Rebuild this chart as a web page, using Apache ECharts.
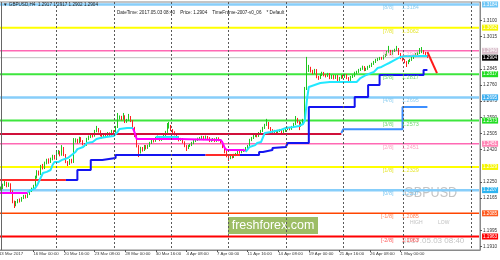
<!DOCTYPE html>
<html><head><meta charset="utf-8">
<script src="https://cdn.jsdelivr.net/npm/echarts@6/dist/echarts.min.js"></script>
<style>html,body{margin:0;padding:0;background:#fff}#c{width:500px;height:260px}</style>
</head><body><div id="c"></div>
<script>
// ---- data (GBPUSD H4, 13 Mar 2017 .. 3 May 2017 08:00), [open, close, low, high]
const ohlc = [
[1.2203,1.2213,1.2196,1.2218],[1.2213,1.2218,1.2205,1.2226],[1.2218,1.2234,1.2212,1.2241],[1.2234,1.2245,1.2229,1.2256],
[1.2245,1.2229,1.2222,1.2251],[1.2229,1.2239,1.2224,1.2247],[1.2239,1.2201,1.2195,1.2243],[1.2201,1.2145,1.2138,1.2206],
[1.2145,1.2129,1.2113,1.2152],[1.2129,1.2145,1.2122,1.2150],[1.2145,1.2155,1.2138,1.2160],[1.2155,1.2150,1.2142,1.2163],
[1.2150,1.2166,1.2146,1.2171],[1.2166,1.2176,1.2160,1.2182],[1.2176,1.2171,1.2163,1.2183],[1.2171,1.2187,1.2166,1.2192],
[1.2187,1.2203,1.2181,1.2208],[1.2203,1.2213,1.2197,1.2220],[1.2213,1.2229,1.2208,1.2235],[1.2229,1.2276,1.2224,1.2283],
[1.2276,1.2303,1.2268,1.2312],[1.2303,1.2292,1.2284,1.2310],[1.2292,1.2334,1.2287,1.2340],[1.2334,1.2324,1.2316,1.2345],
[1.2324,1.2350,1.2318,1.2357],[1.2350,1.2366,1.2343,1.2372],[1.2366,1.2355,1.2346,1.2374],[1.2355,1.2371,1.2350,1.2378],
[1.2371,1.2387,1.2364,1.2393],[1.2387,1.2376,1.2368,1.2392],[1.2376,1.2402,1.2372,1.2410],[1.2402,1.2408,1.2395,1.2418],
[1.2408,1.2392,1.2385,1.2414],[1.2392,1.2429,1.2388,1.2444],[1.2429,1.2392,1.2386,1.2434],[1.2392,1.2355,1.2349,1.2397],
[1.2355,1.2345,1.2334,1.2360],[1.2345,1.2366,1.2340,1.2371],[1.2366,1.2355,1.2348,1.2372],[1.2355,1.2466,1.2350,1.2481],
[1.2466,1.2471,1.2457,1.2480],[1.2471,1.2460,1.2452,1.2477],[1.2460,1.2481,1.2455,1.2488],[1.2481,1.2466,1.2459,1.2486],
[1.2466,1.2450,1.2443,1.2470],[1.2450,1.2444,1.2434,1.2455],[1.2444,1.2476,1.2440,1.2482],[1.2476,1.2487,1.2470,1.2494],
[1.2487,1.2497,1.2481,1.2505],[1.2497,1.2492,1.2484,1.2502],[1.2492,1.2518,1.2488,1.2524],[1.2518,1.2529,1.2512,1.2545],
[1.2529,1.2518,1.2510,1.2534],[1.2518,1.2497,1.2490,1.2522],[1.2497,1.2487,1.2479,1.2502],[1.2487,1.2502,1.2482,1.2507],
[1.2502,1.2492,1.2485,1.2508],[1.2492,1.2508,1.2487,1.2513],[1.2508,1.2497,1.2490,1.2511],[1.2497,1.2518,1.2493,1.2524],
[1.2518,1.2513,1.2505,1.2522],[1.2513,1.2539,1.2508,1.2545],[1.2539,1.2587,1.2534,1.2613],[1.2587,1.2592,1.2578,1.2600],
[1.2592,1.2582,1.2574,1.2598],[1.2582,1.2597,1.2577,1.2613],[1.2597,1.2566,1.2560,1.2601],[1.2566,1.2576,1.2561,1.2582],
[1.2576,1.2592,1.2571,1.2608],[1.2592,1.2571,1.2565,1.2597],[1.2571,1.2534,1.2528,1.2576],[1.2534,1.2492,1.2486,1.2540],
[1.2492,1.2439,1.2432,1.2497],[1.2439,1.2408,1.2381,1.2444],[1.2408,1.2429,1.2400,1.2435],[1.2429,1.2418,1.2410,1.2434],
[1.2418,1.2439,1.2413,1.2445],[1.2439,1.2429,1.2421,1.2444],[1.2429,1.2439,1.2424,1.2446],[1.2439,1.2455,1.2434,1.2461],
[1.2455,1.2471,1.2450,1.2477],[1.2471,1.2466,1.2458,1.2476],[1.2466,1.2481,1.2461,1.2487],[1.2481,1.2487,1.2475,1.2494],
[1.2487,1.2471,1.2465,1.2492],[1.2471,1.2476,1.2466,1.2483],[1.2476,1.2497,1.2471,1.2503],[1.2497,1.2513,1.2492,1.2519],
[1.2513,1.2539,1.2508,1.2560],[1.2539,1.2545,1.2531,1.2566],[1.2545,1.2523,1.2518,1.2550],[1.2523,1.2513,1.2505,1.2528],
[1.2513,1.2502,1.2495,1.2517],[1.2502,1.2487,1.2480,1.2507],[1.2487,1.2471,1.2464,1.2492],[1.2471,1.2476,1.2466,1.2482],
[1.2476,1.2460,1.2453,1.2481],[1.2460,1.2439,1.2433,1.2464],[1.2439,1.2429,1.2413,1.2444],[1.2429,1.2439,1.2423,1.2445],
[1.2439,1.2444,1.2434,1.2450],[1.2444,1.2455,1.2439,1.2461],[1.2455,1.2466,1.2449,1.2471],[1.2466,1.2471,1.2460,1.2477],
[1.2471,1.2476,1.2466,1.2483],[1.2476,1.2481,1.2470,1.2487],[1.2481,1.2487,1.2476,1.2493],[1.2487,1.2476,1.2470,1.2492],
[1.2476,1.2487,1.2471,1.2494],[1.2487,1.2481,1.2474,1.2492],[1.2481,1.2466,1.2460,1.2486],[1.2466,1.2471,1.2461,1.2477],
[1.2471,1.2476,1.2465,1.2481],[1.2476,1.2466,1.2460,1.2480],[1.2466,1.2481,1.2461,1.2486],[1.2481,1.2471,1.2464,1.2485],
[1.2471,1.2460,1.2454,1.2476],[1.2460,1.2434,1.2428,1.2465],[1.2434,1.2408,1.2401,1.2439],[1.2408,1.2387,1.2380,1.2413],
[1.2387,1.2376,1.2360,1.2392],[1.2376,1.2387,1.2370,1.2393],[1.2387,1.2381,1.2374,1.2392],[1.2381,1.2392,1.2376,1.2398],
[1.2392,1.2397,1.2386,1.2403],[1.2397,1.2408,1.2392,1.2413],[1.2408,1.2406,1.2399,1.2414],[1.2406,1.2413,1.2401,1.2419],
[1.2413,1.2418,1.2408,1.2424],[1.2418,1.2429,1.2413,1.2434],[1.2429,1.2439,1.2424,1.2445],[1.2439,1.2471,1.2434,1.2477],
[1.2471,1.2481,1.2465,1.2487],[1.2481,1.2492,1.2476,1.2497],[1.2492,1.2497,1.2486,1.2503],[1.2497,1.2492,1.2485,1.2502],
[1.2492,1.2508,1.2487,1.2513],[1.2508,1.2518,1.2502,1.2524],[1.2518,1.2534,1.2513,1.2540],[1.2534,1.2550,1.2529,1.2556],
[1.2550,1.2560,1.2545,1.2582],[1.2560,1.2534,1.2528,1.2566],[1.2534,1.2523,1.2516,1.2539],[1.2523,1.2513,1.2506,1.2528],
[1.2513,1.2518,1.2508,1.2524],[1.2518,1.2508,1.2501,1.2522],[1.2508,1.2518,1.2503,1.2524],[1.2518,1.2523,1.2513,1.2529],
[1.2523,1.2513,1.2506,1.2528],[1.2513,1.2518,1.2508,1.2524],[1.2518,1.2529,1.2513,1.2534],[1.2529,1.2534,1.2523,1.2540],
[1.2534,1.2529,1.2522,1.2539],[1.2529,1.2539,1.2524,1.2545],[1.2539,1.2555,1.2534,1.2561],[1.2555,1.2582,1.2550,1.2597],
[1.2582,1.2566,1.2559,1.2587],[1.2566,1.2545,1.2523,1.2571],[1.2545,1.2560,1.2540,1.2566],[1.2560,1.2576,1.2555,1.2582],
[1.2576,1.2739,1.2571,1.2750],[1.2739,1.2839,1.2734,1.2908],[1.2839,1.2850,1.2829,1.2866],[1.2850,1.2834,1.2826,1.2856],
[1.2834,1.2824,1.2816,1.2840],[1.2824,1.2839,1.2818,1.2845],[1.2839,1.2802,1.2796,1.2844],[1.2802,1.2797,1.2787,1.2808],
[1.2797,1.2813,1.2792,1.2819],[1.2813,1.2824,1.2808,1.2830],[1.2824,1.2813,1.2806,1.2829],[1.2813,1.2808,1.2800,1.2818],
[1.2808,1.2818,1.2803,1.2824],[1.2818,1.2797,1.2791,1.2823],[1.2797,1.2808,1.2792,1.2814],[1.2808,1.2797,1.2790,1.2813],
[1.2797,1.2808,1.2792,1.2814],[1.2808,1.2787,1.2776,1.2813],[1.2787,1.2797,1.2782,1.2803],[1.2797,1.2808,1.2792,1.2814],
[1.2808,1.2802,1.2795,1.2813],[1.2802,1.2813,1.2797,1.2819],[1.2813,1.2797,1.2791,1.2818],[1.2797,1.2787,1.2776,1.2802],
[1.2787,1.2802,1.2782,1.2808],[1.2802,1.2808,1.2797,1.2814],[1.2808,1.2824,1.2803,1.2830],[1.2824,1.2829,1.2818,1.2835],
[1.2829,1.2839,1.2824,1.2845],[1.2839,1.2845,1.2834,1.2851],[1.2845,1.2855,1.2840,1.2862],[1.2855,1.2839,1.2833,1.2860],
[1.2839,1.2845,1.2834,1.2851],[1.2845,1.2855,1.2840,1.2861],[1.2855,1.2860,1.2850,1.2866],[1.2860,1.2871,1.2855,1.2877],
[1.2871,1.2881,1.2866,1.2887],[1.2881,1.2892,1.2876,1.2898],[1.2892,1.2897,1.2886,1.2903],[1.2897,1.2902,1.2891,1.2908],
[1.2902,1.2899,1.2893,1.2908],[1.2899,1.2913,1.2894,1.2918],[1.2913,1.2918,1.2907,1.2924],[1.2918,1.2934,1.2913,1.2940],
[1.2934,1.2939,1.2928,1.2966],[1.2939,1.2924,1.2918,1.2945],[1.2924,1.2939,1.2919,1.2945],[1.2939,1.2945,1.2934,1.2951],
[1.2945,1.2950,1.2940,1.2966],[1.2950,1.2924,1.2918,1.2955],[1.2924,1.2902,1.2896,1.2929],[1.2902,1.2892,1.2885,1.2907],
[1.2892,1.2881,1.2875,1.2897],[1.2881,1.2876,1.2855,1.2886],[1.2876,1.2887,1.2870,1.2892],[1.2887,1.2892,1.2881,1.2898],
[1.2892,1.2902,1.2887,1.2908],[1.2902,1.2913,1.2897,1.2919],[1.2913,1.2924,1.2907,1.2929],[1.2924,1.2929,1.2918,1.2935],
[1.2929,1.2934,1.2923,1.2955],[1.2934,1.2939,1.2928,1.2960],[1.2939,1.2929,1.2922,1.2944],[1.2929,1.2917,1.2912,1.2934],
[1.2917,1.2904,1.2902,1.2917]
];
const barCount = 252;               // H4 slots on the axis (data + right shift)
const xTickBars   = [0,18,34,50,66,82,98,114,130,146,162,178,194,210];
const xTickLabels = ['13 Mar 2017','16 Mar 00:00','20 Mar 16:00','23 Mar 08:00','28 Mar 00:00','30 Mar 16:00','4 Apr 08:00','7 Apr 00:00','11 Apr 16:00','14 Apr 08:00','19 Apr 00:00','21 Apr 16:00','26 Apr 08:00','1 May 00:00'];
const xGridBars   = [30,60,90,120,150,180,211,247];
const yMin = 1.1892, yMax = 1.3197;
const yTickValues = [1.1910,1.1995,1.2165,1.2250,1.2420,1.2505,1.2590,1.2675,1.2760,1.2845,1.3015,1.3100];
const levelNames  = ['[8/8]','[7/8]','[6/8]','[5/8]','[4/8]','[3/8]','[2/8]','[1/8]','[0/8]','[-1/8]','[-2/8]'];
const levelValues = [1.3184,1.3062,1.2940,1.2817,1.2695,1.2573,1.2451,1.2329,1.2207,1.2085,1.1963];
const lastPrice = 1.2904;
// indicator lines: [bar, price]
const magentaA = [[0,1.2192],[15,1.2192]];
const cyanA = [[15,1.2197],[19,1.2218],[20,1.2234],[22,1.2276],[23,1.2297],[25,1.2303],[27,1.2313],[28,1.2339],[29,1.2355],[31,1.2355],[33,1.2366],[36,1.2376],[37,1.2381],[38,1.2392],[40,1.2408],[41,1.2423],[44,1.2434],[46,1.2455],[49,1.2460],[51,1.2476],[53,1.2481],[56,1.2487],[60,1.2492],[62,1.2513],[63,1.2529],[67,1.2534],[70,1.2534]];
const magentaB = [[70,1.2534],[71,1.2508],[72,1.2476],[94,1.2476],[95,1.2471],[116,1.2471],[117,1.2455],[118,1.2429],[119,1.2418],[128,1.2418],[129,1.2413]];
const cyanMid = [[82,1.2487],[94,1.2487]];
const cyanB = [[129,1.2408],[130,1.2408],[131,1.2434],[134,1.2444],[135,1.2455],[137,1.2460],[139,1.2508],[142,1.2513],[147,1.2523],[150,1.2534],[154,1.2539],[157,1.2545],[159,1.2555],[160,1.2576],[161,1.2681],[162,1.2750],[163,1.2760],[168,1.2771],[173,1.2776],[187,1.2776],[189,1.2797],[192,1.2813],[196,1.2829],[198,1.2850],[200,1.2855],[202,1.2866],[204,1.2876],[207,1.2892],[210,1.2908],[212,1.2913],[224,1.2913]];
const stopRedA = [[0,1.2260],[35,1.2260]];
const stopBlueA = [[35,1.2260],[41,1.2313],[48,1.2366],[54,1.2376],[61,1.2392],[108,1.2392]];
const stopRedB = [[108,1.2392],[126,1.2392]];
const stopBlueB = [[126,1.2392],[136,1.2408],[138,1.2418],[143,1.2429],[144,1.2434],[150,1.2444],[151,1.2455],[162,1.2644],[186,1.2697],[193,1.2760],[199,1.2813],[222,1.2839],[224,1.2839]];
const pivotRed = [[0,1.2502],[179,1.2502]];
const pivotBlue = [[179,1.2508],[180,1.2528],[211,1.2645],[224,1.2645]];
const forecast = [[224,1.2934],[229,1.2823]];

// ---- styles
const levelLineColors = ['#87cefa','#ffff00','#ff69b4','#3ee63e','#87cefa','#3ee63e','#ff69b4','#ffff00','#87cefa','#ff4500','#ff0000'];
const levelBoxColors  = ['#6ec6f5','#f5f500','#d9bfcb','#22dd22','#3fb0f0','#22dd22','#ff85b5','#f5f500','#2db4f0','#ff5a1e','#ff0000'];
const levelTextColors = ['#76c4ee','#e0e000','#f0a0c0','#4cd04c','#76c4ee','#4cd04c','#ff88b0','#e0e000','#5ab8ee','#ff6a3a','#ff3030'];
const levelWidths     = [2.5,2,1.5,2,2.5,2,1.5,2,2.5,1.5,2];
const FONT = 'Liberation Sans';

const cats = Array.from({length: barCount}, (_, i) => String(i));
const lastCat = barCount - 1;
const chart = echarts.init(document.getElementById('c'), null, {renderer: 'canvas'});

function lineSeries(data, color, width, step, z, extra) {
  return Object.assign({type: 'line', data: data, step: step || false, symbol: 'none', showSymbol: false, silent: true,
    z: z || 4, lineStyle: {color: color, width: width}, animation: false}, extra || {});
}
function boxLabel(text, bg) {
  return {show: true, formatter: text, backgroundColor: bg, color: '#fff', fontSize: 4.6, fontFamily: FONT,
    padding: [1, 1, 0, 1], distance: 3, align: 'left', verticalAlign: 'middle'};
}

const levelSeries = levelValues.map((v, k) => lineSeries([[0, v], [lastCat, v]], levelLineColors[k], levelWidths[k], false, 2,
  {endLabel: boxLabel(v.toFixed(4), levelBoxColors[k])}));
const priceSeries = lineSeries([[0, lastPrice], [lastCat, lastPrice]], '#c0c0c0', 1, false, 2,
  {endLabel: boxLabel(lastPrice.toFixed(4), '#000')});

// vertical dotted grid drawn through the axis scales (dots as tiny rects)
const gridLineSeries = {
  type: 'custom', z: 5, silent: true, animation: false,
  data: xGridBars.map(b => [b, yMin]),
  encode: {x: 0, y: 1},
  renderItem: function (params, api) {
    const top = api.coord([api.value(0), yMax]);
    const bot = api.coord([api.value(0), yMin]);
    const x = Math.round(top[0]);
    const children = [];
    for (let y = Math.round(top[1]); y < bot[1]; y += 4) {
      children.push({type: 'rect', shape: {x: x, y: y, width: 1, height: 2}, style: {fill: '#5a5a5a'}});
    }
    return {type: 'group', children: children};
  }
};

const option = {
  animation: false,
  backgroundColor: '#fff',
  grid: {left: -2, right: 20, top: 2, bottom: 10, containLabel: false, outerBoundsMode: 'none',
    show: true, borderColor: '#8a8a8a', borderWidth: 1, backgroundColor: 'rgba(0,0,0,0)'},
  xAxis: {
    type: 'category', data: cats, boundaryGap: true,
    axisLine: {show: true, lineStyle: {color: '#8a8a8a'}},
    axisTick: {show: true, alignWithLabel: true, length: 2, interval: (i) => xTickBars.includes(i), lineStyle: {color: '#555'}},
    axisLabel: {interval: (i) => xTickBars.includes(i), formatter: (v, i) => xTickLabels[xTickBars.indexOf(Number(v))],
      align: 'left', fontSize: 4.3, fontFamily: FONT, color: '#333', margin: 2},
    splitLine: {show: false}
  },
  yAxis: {
    type: 'value', position: 'right', min: yMin, max: yMax,
    axisLine: {show: true, lineStyle: {color: '#8a8a8a'}},
    axisTick: {show: true, length: 2, customValues: yTickValues, lineStyle: {color: '#555'}},
    axisLabel: {customValues: yTickValues, formatter: (v) => v.toFixed(4), fontSize: 4.6, fontFamily: FONT, color: '#333', margin: 3},
    splitLine: {show: false}
  },
  graphic: [
    {type: 'line', z: 10, shape: {x1: 1.5, y1: 2, x2: 1.5, y2: 250}, style: {stroke: '#666', lineWidth: 1}},
    {type: 'text', x: 3, y: 5, z: 10, style: {text: '\u25BC GBPUSD,H4  1.2917 1.2917 1.2902 1.2904', fontSize: 4.6, fontFamily: FONT, fill: '#222', verticalAlign: 'middle'}},
    {type: 'text', x: 117, y: 13, z: 10, style: {text: 'DateTime: 2017.05.03 08:40    Price: 1.2904    TimeFrame-2007-v0_06    * Default', fontSize: 4.6, fontFamily: FONT, fill: '#222', verticalAlign: 'middle'}},
    {type: 'text', x: 404, y: 193, z: 1, scaleX: 0.84, style: {text: 'GBPUSD', fontSize: 15, fontFamily: FONT, fill: '#c4c4c4', verticalAlign: 'middle'}},
    {type: 'text', x: 410, y: 223, z: 1, style: {text: 'HIGH', fontSize: 5, fontFamily: FONT, fill: '#c0c0c0', verticalAlign: 'middle'}},
    {type: 'text', x: 438, y: 223, z: 1, style: {text: 'LOW', fontSize: 5, fontFamily: FONT, fill: '#c0c0c0', verticalAlign: 'middle'}},
    {type: 'text', x: 402, y: 241, z: 1, style: {text: '2017.05.03 08:40', fontSize: 8, fontFamily: FONT, fill: '#c4c4c4', verticalAlign: 'middle'}},
    {type: 'rect', z: 1, shape: {x: 228, y: 217, width: 90, height: 17}, style: {fill: 'rgba(140,178,74,0.85)'}},
    {type: 'text', x: 273, y: 225.5, z: 2, style: {text: 'freshforex.com', fontSize: 12.5, fontFamily: FONT, fill: '#fff', align: 'center', verticalAlign: 'middle'}}
  ],
  series: [].concat(levelSeries, [priceSeries], [
    {type: 'candlestick', data: ohlc, z: 3, barWidth: 1, silent: true, animation: false,
      itemStyle: {color: '#1fc41f', color0: '#ff2020', borderColor: '#1fc41f', borderColor0: '#ff2020', borderWidth: 1}},
    gridLineSeries,
    lineSeries(pivotRed, '#d0103a', 2),
    lineSeries(pivotBlue, '#3d8fff', 2, 'end'),
    lineSeries(stopRedA, '#ff2a2a', 2),
    lineSeries(stopBlueA, '#1414f0', 2, 'end'),
    lineSeries(stopRedB, '#ff2a2a', 2),
    lineSeries(stopBlueB, '#1414f0', 2, 'end'),
    lineSeries(magentaA, '#ff00ff', 2),
    lineSeries(magentaB, '#ff00ff', 2),
    lineSeries(cyanA, '#22e8ff', 2),
    lineSeries(cyanMid, '#22e8ff', 2),
    lineSeries(cyanB, '#22e8ff', 2),
    lineSeries(forecast, '#ff1a1a', 2, false, 6),
    {type: 'scatter', z: 7, silent: true, animation: false, symbolSize: 1, itemStyle: {color: 'rgba(0,0,0,0)'},
      data: levelValues.map((v, k) => ({value: [206, v], label: {color: levelTextColors[k]}})),
      label: {show: true, position: [0, 0], align: 'right', verticalAlign: 'middle', offset: [1, 4], fontSize: 5.5, fontFamily: FONT,
        formatter: (p) => levelNames[p.dataIndex]}},
    {type: 'scatter', z: 7, silent: true, animation: false, symbolSize: 1, itemStyle: {color: 'rgba(0,0,0,0)'},
      data: levelValues.map((v, k) => ({value: [211, v], label: {color: levelTextColors[k]}})),
      label: {show: true, position: [0, 0], align: 'left', verticalAlign: 'middle', offset: [0, 4], fontSize: 5.5, fontFamily: FONT,
        formatter: (p) => levelValues[p.dataIndex].toFixed(4)}}
  ])
};
chart.setOption(option);
</script>
</body></html>
